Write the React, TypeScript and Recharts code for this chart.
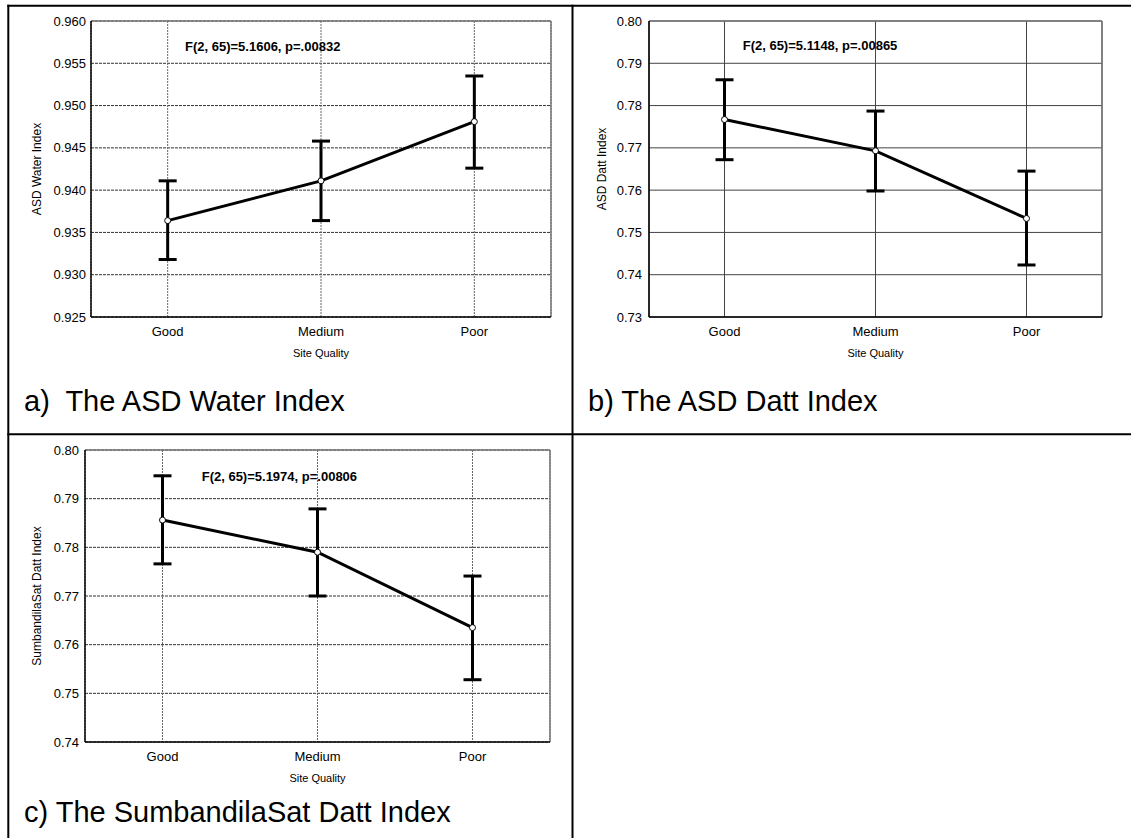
import React from 'react';
import { ComposedChart, Line, ErrorBar, XAxis, YAxis, CartesianGrid, ReferenceLine } from 'recharts';

const FONT = '"Liberation Sans", Arial, Helvetica, sans-serif';

const categories = ['Good', 'Medium', 'Poor'];

// a) ASD Water Index
const waterMean = [0.9364, 0.9411, 0.9481];
const waterLow = [0.9318, 0.9364, 0.9426];
const waterHigh = [0.9411, 0.9458, 0.9535];
const waterTicks = [0.925, 0.93, 0.935, 0.94, 0.945, 0.95, 0.955, 0.96];

// b) ASD Datt Index
const asdDattMean = [0.7767, 0.7693, 0.7533];
const asdDattLow = [0.7672, 0.7598, 0.7423];
const asdDattHigh = [0.7861, 0.7787, 0.7645];
const asdDattTicks = [0.73, 0.74, 0.75, 0.76, 0.77, 0.78, 0.79, 0.8];

// c) SumbandilaSat Datt Index
const sumMean = [0.7856, 0.779, 0.7635];
const sumLow = [0.7766, 0.77, 0.7528];
const sumHigh = [0.7947, 0.7879, 0.7741];
const sumTicks = [0.74, 0.75, 0.76, 0.77, 0.78, 0.79, 0.8];

const statA = 'F(2, 65)=5.1606, p=.00832';
const statB = 'F(2, 65)=5.1148, p=.00865';
const statC = 'F(2, 65)=5.1974, p=.00806';

const build = (mean: number[], low: number[], high: number[]) =>
  categories.map((c, i) => ({ cat: c, mean: mean[i], err: [mean[i] - low[i], high[i] - mean[i]] }));

const dataA = build(waterMean, waterLow, waterHigh);
const dataB = build(asdDattMean, asdDattLow, asdDattHigh);
const dataC = build(sumMean, sumLow, sumHigh);

type PanelProps = {
  left: number; top: number; width: number; height: number;
  margin: { top: number; right: number; bottom: number; left: number };
  yWidth: number; data: any[]; ticks: number[]; digits: number;
  hColor: string; hDash?: string; vColor: string; vDash?: string; ySize: number;
};

function Panel(p: PanelProps) {
  const max = p.ticks[p.ticks.length - 1];
  return (
    <div style={{ position: 'absolute', left: p.left, top: p.top }}>
      <ComposedChart width={p.width} height={p.height} data={p.data} margin={p.margin} style={{ fontFamily: FONT }}>
        <CartesianGrid horizontal={true} vertical={false} stroke={p.hColor} strokeDasharray={p.hDash} />
        <CartesianGrid horizontal={false} vertical={true} stroke={p.vColor} strokeDasharray={p.vDash} />
        <XAxis
          dataKey="cat"
          scale="band"
          interval={0}
          tickLine={false}
          tickSize={6}
          tickMargin={4}
          height={45}
          axisLine={{ stroke: '#000', strokeWidth: 1.5 }}
          tick={{ fontSize: 13, fill: '#000', fontFamily: FONT }}
          label={{ value: 'Site Quality', position: 'insideBottom', offset: 5, fontSize: 11, fill: '#000', fontFamily: FONT }}
        />
        <YAxis
          type="number"
          domain={[p.ticks[0], max]}
          ticks={p.ticks}
          interval={0}
          allowDataOverflow
          tickFormatter={(v: number) => v.toFixed(p.digits)}
          width={p.yWidth}
          tickLine={false}
          tickSize={p.ySize}
          tickMargin={2}
          axisLine={{ stroke: '#000', strokeWidth: 1.5 }}
          tick={{ fontSize: 13, fill: '#000', fontFamily: FONT }}
        />
        <ReferenceLine y={max} stroke="#777" strokeWidth={1.5} />
        <ReferenceLine x="Poor" position="end" stroke="#777" strokeWidth={1.5} />
        <Line
          dataKey="mean"
          stroke="#000"
          strokeWidth={3}
          isAnimationActive={false}
          dot={{ r: 3, fill: '#fff', stroke: '#000', strokeWidth: 1 }}
          activeDot={false}
        >
          <ErrorBar dataKey="err" width={9} strokeWidth={3} stroke="#000" direction="y" isAnimationActive={false} />
        </Line>
      </ComposedChart>
    </div>
  );
}

export default function App() {
  return (
    <div style={{ position: 'absolute', left: 0, top: 0, width: 1131, height: 838, background: '#fff', overflow: 'hidden', fontFamily: FONT }}>
      <Panel left={10} top={10} width={560} height={352} margin={{ top: 11, right: 19, bottom: 0, left: 0 }}
        yWidth={81} data={dataA} ticks={waterTicks} digits={3} hColor="#333" hDash="3 1" vColor="#666" vDash="2 1" ySize={3} />
      <Panel left={575} top={10} width={547} height={352} margin={{ top: 11, right: 20, bottom: 0, left: 0 }}
        yWidth={74} data={dataB} ticks={asdDattTicks} digits={2} hColor="#444" vColor="#444" ySize={5} />
      <Panel left={10} top={440} width={560} height={347} margin={{ top: 10, right: 20, bottom: 0, left: 0 }}
        yWidth={75} data={dataC} ticks={sumTicks} digits={2} hColor="#333" hDash="3 1" vColor="#666" vDash="2 1" ySize={4} />
      <svg width={1131} height={838} style={{ position: 'absolute', left: 0, top: 0, pointerEvents: 'none' }} fontFamily={FONT}>
        <line x1={7.3} y1={5.7} x2={1131} y2={5.7} stroke="#000" strokeWidth={2} />
        <line x1={8.3} y1={4.7} x2={8.3} y2={838} stroke="#000" strokeWidth={2} />
        <line x1={572.5} y1={4.7} x2={572.5} y2={838} stroke="#000" strokeWidth={2} />
        <line x1={7.3} y1={434.3} x2={1131} y2={434.3} stroke="#000" strokeWidth={2} />

        <text transform="translate(37,169) rotate(-90)" textAnchor="middle" dy="0.35em" fontSize={12} fill="#000">ASD Water Index</text>
        <text transform="translate(602,169) rotate(-90)" textAnchor="middle" dy="0.35em" fontSize={12} fill="#000">ASD Datt Index</text>
        <text transform="translate(37,596) rotate(-90)" textAnchor="middle" dy="0.35em" fontSize={12} fill="#000">SumbandilaSat Datt Index</text>

        <text x={185} y={50.7} fontSize={13} fontWeight="bold" fill="#000">{statA}</text>
        <text x={742.7} y={49.7} fontSize={13} fontWeight="bold" fill="#000">{statB}</text>
        <text x={201.7} y={480.7} fontSize={13} fontWeight="bold" fill="#000">{statC}</text>

        <text x={24} y={410.5} fontSize={29} fill="#000" style={{ whiteSpace: 'pre' }}>{'a)  The ASD Water Index'}</text>
        <text x={588} y={411} fontSize={29} fill="#000">b) The ASD Datt Index</text>
        <text x={24} y={821.5} fontSize={29} fill="#000">c) The SumbandilaSat Datt Index</text>
      </svg>
    </div>
  );
}
